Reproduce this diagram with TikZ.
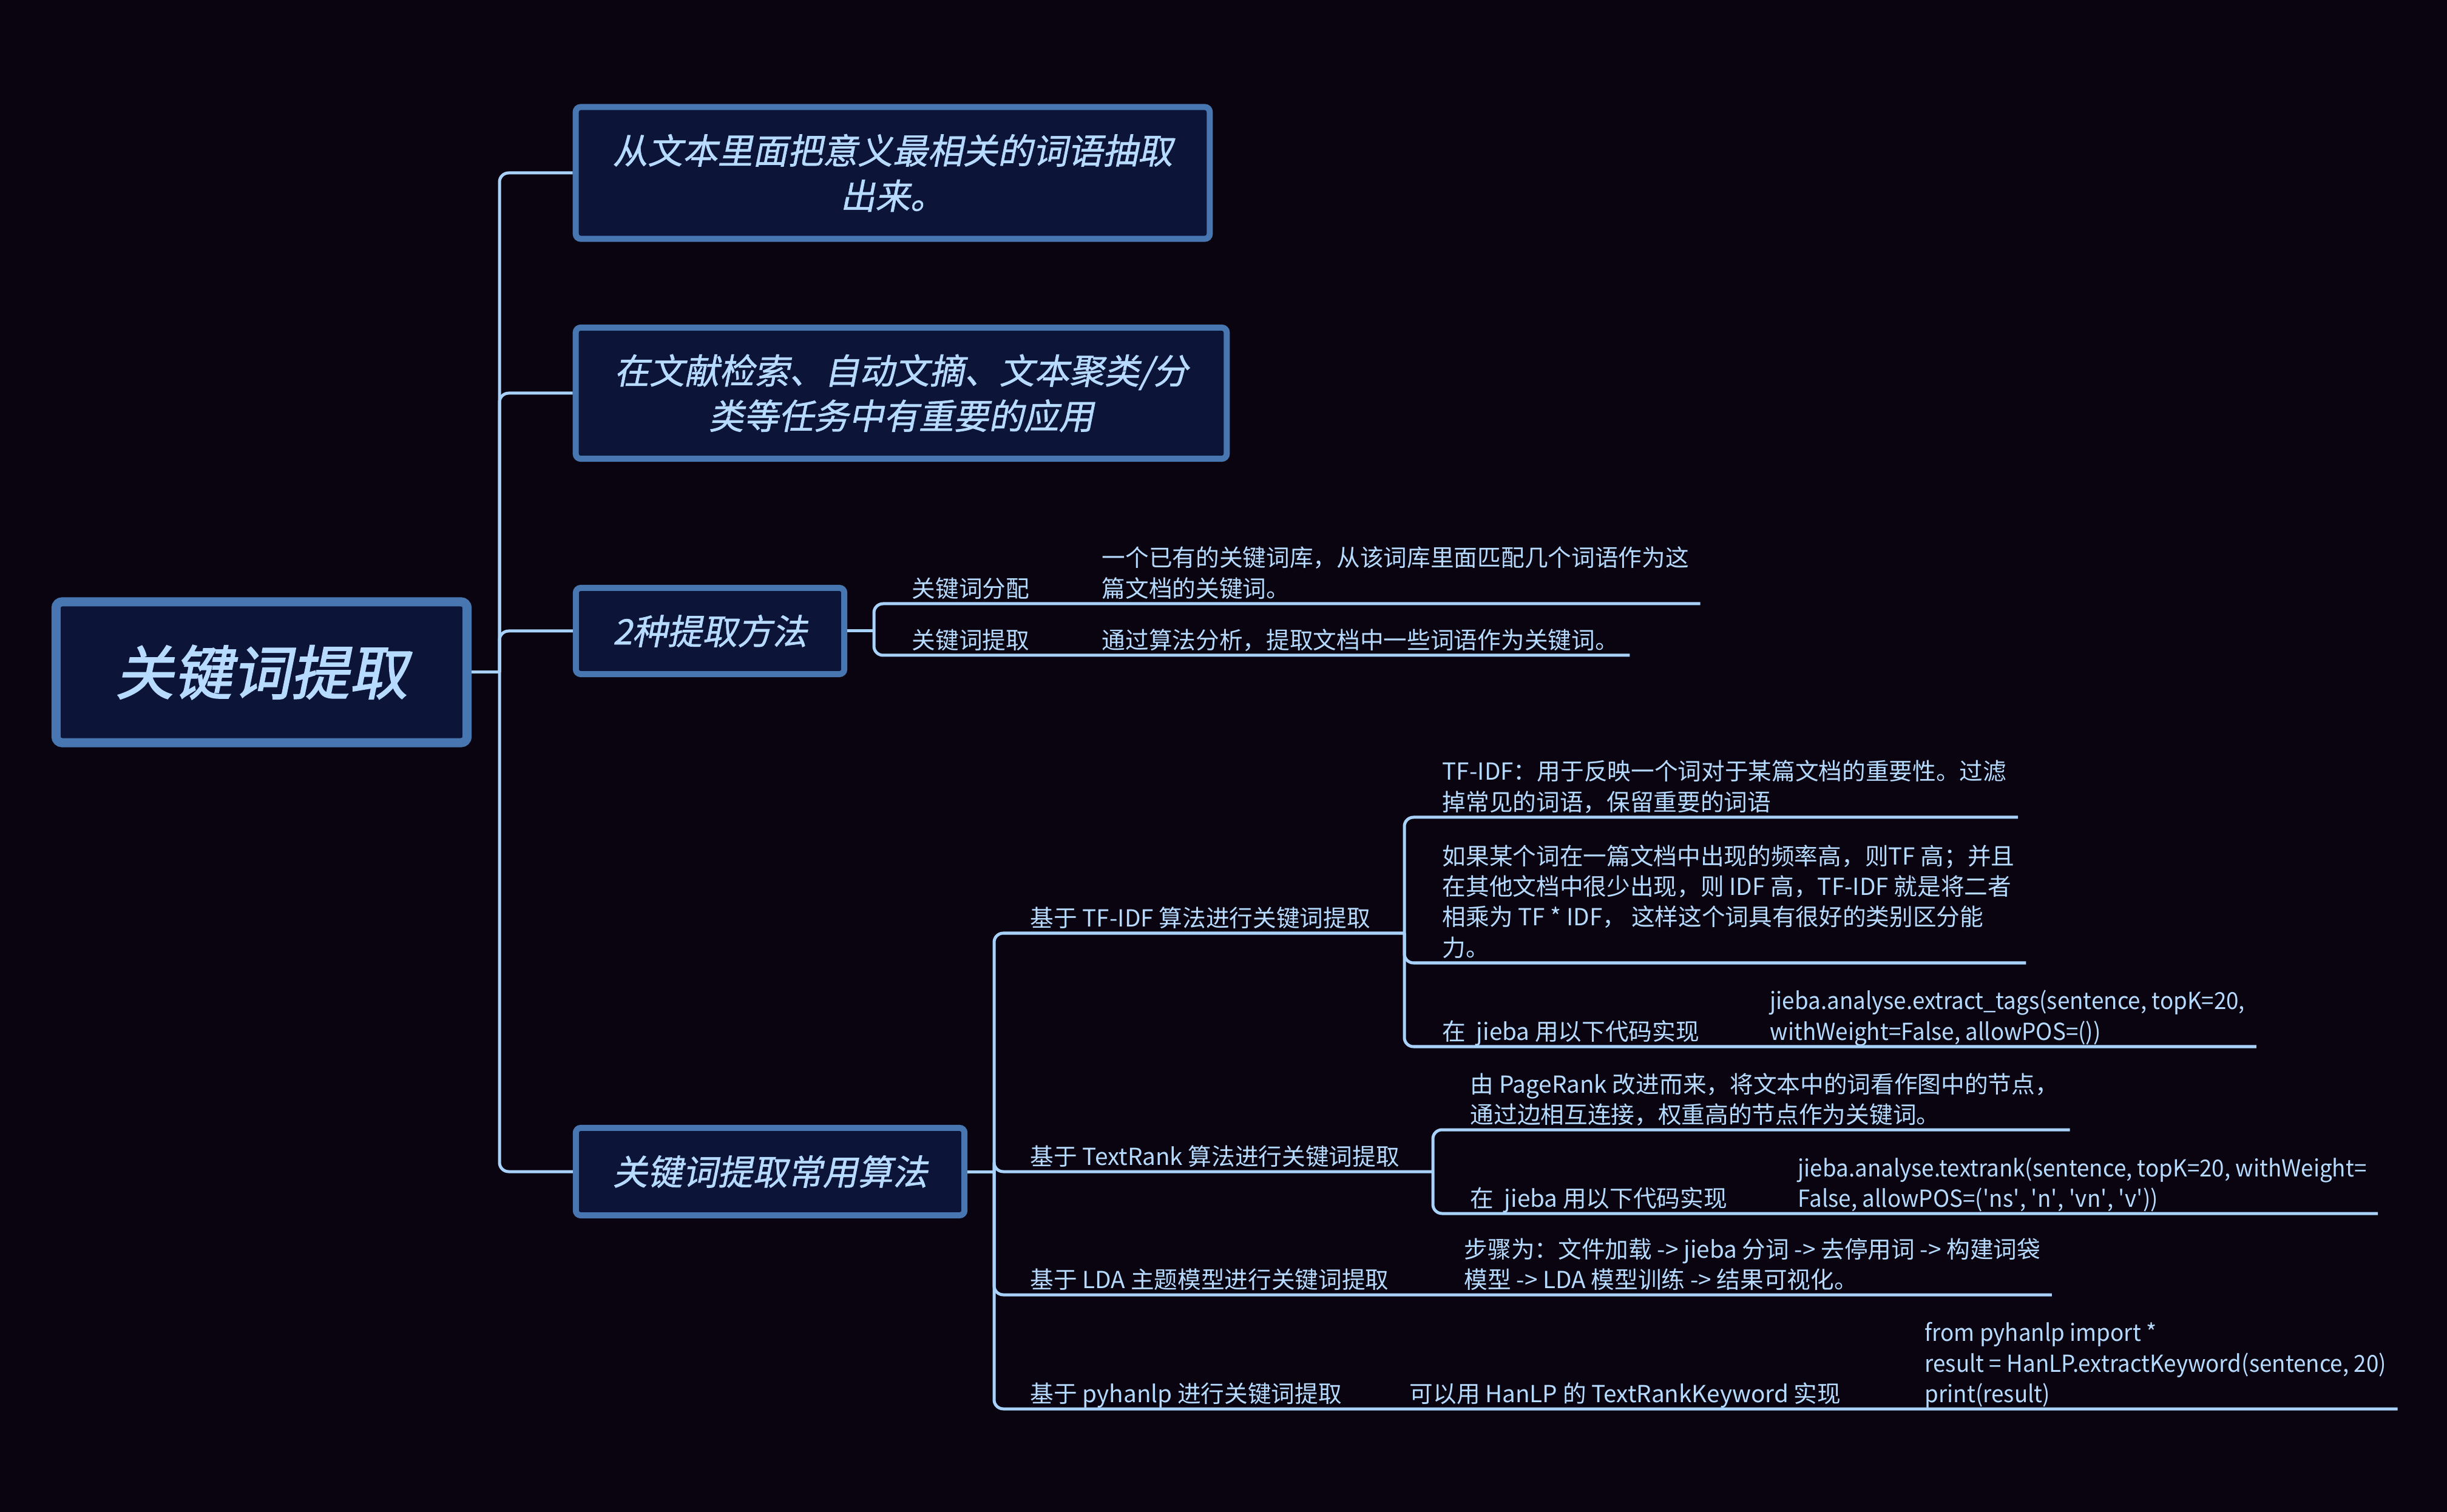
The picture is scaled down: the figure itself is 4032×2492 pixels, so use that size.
\documentclass[tikz,border=0pt]{standalone}
\usepackage{fontspec}
\setmainfont{Noto Sans CJK SC}
\newfontfamily\mindboxfont[FakeSlant=0.2,FakeBold=1]{Noto Sans CJK SC}
\newfontfamily\mindrootfont[FakeSlant=0.2,FakeBold=2]{Noto Sans CJK SC}
\newfontfamily\mindcodefont[FakeStretch=0.95]{Noto Sans CJK SC}
\definecolor{mindbg}{RGB}{10,4,16}
\definecolor{mindfill}{RGB}{12,20,56}
\definecolor{mindframe}{RGB}{72,118,176}
\definecolor{mindtext}{RGB}{182,219,255}
\definecolor{mindline}{RGB}{168,210,250}
\tikzset{
  mind root/.style={
    draw=mindframe,
    fill=mindfill,
    line width=0.15cm,
    rounded corners=0.1cm,
    text=mindtext,
    font=\mindrootfont\fontsize{27.4pt}{32pt}\selectfont,
  },
  mind box/.style={
    draw=mindframe,
    fill=mindfill,
    line width=0.1cm,
    rounded corners=0.08cm,
    text=mindtext,
    align=center,
    font=\mindboxfont\fontsize{16.4pt}{21.2pt}\selectfont,
  },
  mind leaf/.style={
    anchor=south west,
    inner xsep=0.18cm,
    inner ysep=0.1cm,
    text depth=0pt,
    align=left,
    text=mindtext,
    font=\fontsize{11pt}{14.3pt}\selectfont,
  },
  mind code/.style={
    mind leaf,
    font=\mindcodefont\fontsize{11pt}{14.3pt}\selectfont,
  },
  mind link/.style={
    draw=mindline,
    line width=0.05cm,
    rounded corners=0.15cm,
  },
}
\begin{document}
\begin{tikzpicture}[x=0.01cm,y=-0.01cm]
  \fill[mindbg] (0,0) rectangle (4032,2492);

  \node[mind root, minimum width=6.77cm, minimum height=2.32cm] (root) at (431,1108) {关键词提取};
  \node[mind box, minimum width=10.44cm, minimum height=2.17cm] (what) at (1471,285)
    {从文本里面把意义最相关的词语抽取\\出来。};
  \node[mind box, minimum width=10.72cm, minimum height=2.16cm] (use) at (1485,648)
    {在文献检索、自动文摘、文本聚类/分\\类等任务中有重要的应用};
  \node[mind box, minimum width=4.42cm, minimum height=1.42cm] (ways) at (1170,1040) {2种提取方法};
  \node[mind box, minimum width=6.40cm, minimum height=1.44cm] (algo) at (1269,1931) {关键词提取常用算法};

  \node[mind leaf] (dist) at (1484,995) {关键词分配};
  \node[mind leaf] (disttxt) at (1797,995) {一个已有的关键词库，从该词库里面匹配几个词语作为这\\篇文档的关键词。};
  \node[mind leaf] (extr) at (1484,1080) {关键词提取};
  \node[mind leaf] (extrtxt) at (1797,1080) {通过算法分析，提取文档中一些词语作为关键词。};

  \node[mind leaf] (tfidf) at (1679,1538) {基于 TF-IDF 算法进行关键词提取};
  \node[mind leaf] (tfone) at (2358,1347) {TF-IDF：用于反映一个词对于某篇文档的重要性。过滤\\掉常见的词语，保留重要的词语};
  \node[mind leaf] (tftwo) at (2358,1587) {如果某个词在一篇文档中出现的频率高，则TF 高；并且\\在其他文档中很少出现，则 IDF 高，TF-IDF 就是将二者\\相乘为 TF * IDF， 这样这个词具有很好的类别区分能\\力。};
  \node[mind leaf] (tfjieba) at (2358,1725) {在\ \ jieba 用以下代码实现};
  \node[mind code] (tfcode) at (2898,1725) {jieba.analyse.extract\_tags(sentence, topK=20,\\withWeight=False, allowPOS=())};

  \node[mind leaf] (trank) at (1679,1931) {基于 TextRank 算法进行关键词提取};
  \node[mind leaf] (trone) at (2404,1862) {由 PageRank 改进而来，将文本中的词看作图中的节点，\\通过边相互连接，权重高的节点作为关键词。};
  \node[mind leaf] (trjieba) at (2404,2000) {在\ \ jieba 用以下代码实现};
  \node[mind code] (trcode) at (2944,2000) {jieba.analyse.textrank(sentence, topK=20, withWeight=\\False, allowPOS=(\textquotesingle ns\textquotesingle, \textquotesingle n\textquotesingle, \textquotesingle vn\textquotesingle, \textquotesingle v\textquotesingle))};

  \node[mind leaf] (lda) at (1679,2134) {基于 LDA 主题模型进行关键词提取};
  \node[mind leaf] (ldatxt) at (2394,2134) {步骤为：文件加载 -> jieba 分词 -> 去停用词 -> 构建词袋\\模型 -> LDA 模型训练 -> 结果可视化。};

  \node[mind leaf] (hanlp) at (1679,2322) {基于 pyhanlp 进行关键词提取};
  \node[mind leaf] (hanlptxt) at (2304,2322) {可以用 HanLP 的 TextRankKeyword 实现};
  \node[mind code] (hanlpcode) at (3153,2322) {from pyhanlp import *\\result = HanLP.extractKeyword(sentence, 20)\\print(result)};

  \coordinate (rootj) at (823,1108);
  \coordinate (waysj) at (1440,1040);
  \coordinate (algoj) at (1638,1931);
  \coordinate (tfidfj) at (2314,1538);
  \coordinate (trankj) at (2361,1931);

  \draw[mind link] (root.east) -- (rootj);
  \draw[mind link] (rootj) |- (what.west);
  \draw[mind link] (rootj) |- (use.west);
  \draw[mind link] (rootj) |- (ways.west);
  \draw[mind link] (rootj) |- (algo.west);

  \draw[mind link] (ways.east) -- (waysj);
  \draw[mind link] (waysj) |- (dist.south west) -- (disttxt.south east);
  \draw[mind link] (waysj) |- (extr.south west) -- (extrtxt.south east);

  \draw[mind link] (algo.east) -- (algoj);
  \draw[mind link] (algoj) |- (tfidf.south west) -- (tfidfj);
  \draw[mind link] (algoj) |- (trank.south west) -- (trankj);
  \draw[mind link] (algoj) |- (lda.south west) -- (ldatxt.south east);
  \draw[mind link] (algoj) |- (hanlp.south west) -- (hanlpcode.south east);

  \draw[mind link] (tfidfj) |- (tfone.south east);
  \draw[mind link] (tfidfj) |- (tftwo.south east);
  \draw[mind link] (tfidfj) |- (tfjieba.south west) -- (tfcode.south east);

  \draw[mind link] (trankj) |- (trone.south east);
  \draw[mind link] (trankj) |- (trjieba.south west) -- (trcode.south east);
\end{tikzpicture}
\end{document}
